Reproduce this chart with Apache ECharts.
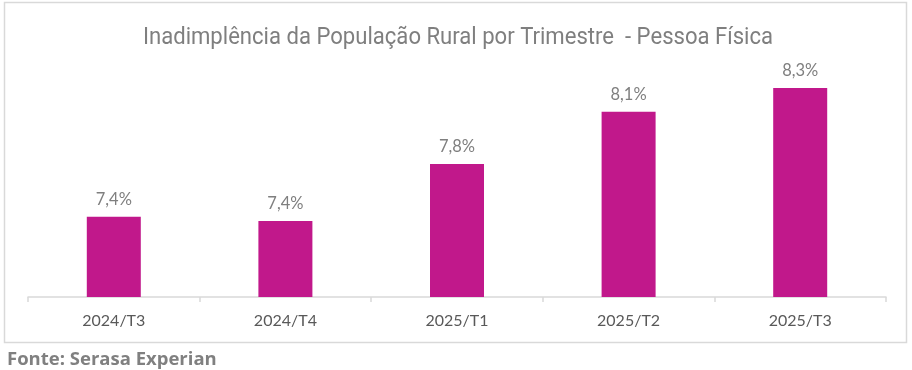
<!DOCTYPE html>
<html>
<head>
<meta charset="utf-8">
<script src="https://cdn.jsdelivr.net/npm/echarts@6/dist/echarts.min.js"></script>
<style>
html,body{margin:0;padding:0;background:#fff;}
#chart{width:912px;height:370px;}
</style>
</head>
<body>
<div id="chart"></div>
<script>
const categories = ['2024/T3', '2024/T4', '2025/T1', '2025/T2', '2025/T3'];
const values = [7.435, 7.407, 7.787, 8.135, 8.293];
const titleText = 'Inadimplência da População Rural por Trimestre  - Pessoa Física';
const sourceText = 'Fonte: Serasa Experian';

const chart = echarts.init(document.getElementById('chart'), null, {renderer: 'canvas'});
chart.setOption({
  animation: false,
  backgroundColor: '#ffffff',
  graphic: [
    {type: 'rect', shape: {x: 4.5, y: 2.5, width: 902, height: 340}, style: {fill: 'none', stroke: '#d9d9d9', lineWidth: 1.5}, z: -1},
    {type: 'text', x: 458, y: 38, scaleX: 0.94, style: {text: titleText, x: 0, y: 0, textAlign: 'center', textVerticalAlign: 'middle', font: '400 23.5px Roboto', fill: '#7f7f7f'}},
    {type: 'text', left: 7, top: 350, style: {text: sourceText, font: 'bold 18.5px "Open Sans"', fill: '#808080'}}
  ],
  grid: {left: 28, right: 26, top: 42, bottom: 73},
  xAxis: {
    type: 'category',
    data: categories,
    axisLine: {lineStyle: {color: '#d9d9d9', width: 1.5}},
    axisTick: {show: true, length: 5, lineStyle: {color: '#d9d9d9', width: 1.5}},
    axisLabel: {fontFamily: 'Lato', fontSize: 16, color: '#595959', margin: 16}
  },
  yAxis: {
    type: 'value',
    min: 6.9,
    max: 8.6,
    show: false,
    splitLine: {show: false}
  },
  series: [{
    type: 'bar',
    data: values,
    barWidth: 54,
    itemStyle: {color: '#c1188b'},
    label: {
      show: true,
      position: 'top',
      distance: 9,
      fontFamily: 'Lato',
      fontSize: 16.5,
      color: '#7f7f7f',
      formatter: p => p.value.toFixed(1).replace('.', ',') + '%'
    }
  }]
});
</script>
</body>
</html>
